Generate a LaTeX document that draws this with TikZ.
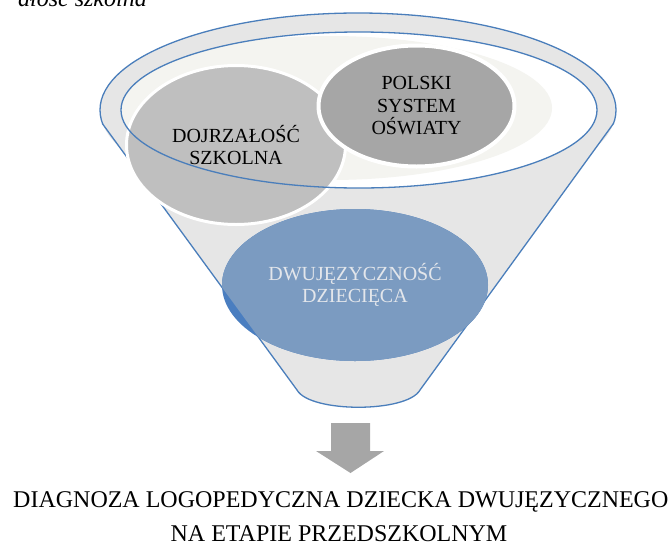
\documentclass[tikz,border=0pt]{standalone}
\usepackage{fontspec}
\setmainfont{Liberation Serif}
\usetikzlibrary{shapes.geometric}
\definecolor{funnelgray}{HTML}{E6E6E6}
\definecolor{funnelblue}{HTML}{4A7EBB}
\definecolor{dojgray}{HTML}{BFBFBF}
\definecolor{polgray}{HTML}{A6A6A6}
\definecolor{lightblue}{HTML}{7B9BC1}
\definecolor{darkblue}{HTML}{4A7EC0}
\definecolor{softshade}{HTML}{F4F4F0}
\definecolor{bluetext}{HTML}{E3E6EB}
\definecolor{arrowgray}{HTML}{A6A6A6}
\begin{document}
\begin{tikzpicture}[x=1pt,y=-1pt,
  bubble/.style={ellipse, inner sep=0pt, outer sep=0pt, align=center,
    font=\fontsize{20}{22.5}\selectfont},
  funnelline/.style={draw=funnelblue, line width=1.3pt},
  caption/.style={font=\fontsize{24}{28}\selectfont, inner sep=0pt}]
\useasboundingbox (0,0) rectangle (669,544);
% funnel geometry
\coordinate (fl) at (102.3,123.5);
\coordinate (bl) at (297,390);
\coordinate (br) at (420,390);
\coordinate (fr) at (613.5,123.5);
% funnel body
\fill[funnelgray] (358,110) ellipse [x radius=258pt, y radius=97pt];
\fill[funnelgray] (fl) -- (bl) .. controls (310,413) and (407,413) .. (br) -- (fr) -- cycle;
\begin{scope}
  \clip (0,0) rectangle (669,123.5);
  \draw[funnelline] (358,110) ellipse [x radius=258pt, y radius=97pt];
\end{scope}
\draw[funnelline] (fl) -- (bl) .. controls (310,413) and (407,413) .. (br) -- (fr);
% inner rim
\fill[white] (359,110) ellipse [x radius=238pt, y radius=78pt];
\begin{scope}
  \clip (359,110) ellipse [x radius=238pt, y radius=78pt];
  \fill[softshade] (330,108) ellipse [x radius=222pt, y radius=72pt];
\end{scope}
% circles
\node[bubble, fill=dojgray, draw=white, line width=3pt,
  minimum width=219pt, minimum height=159pt] (dojrz) at (236,145) {DOJRZAŁOŚĆ\\SZKOLNA};
\node[bubble, fill=polgray, draw=white, line width=4pt,
  minimum width=196pt, minimum height=121pt] (polski) at (416.5,106) {POLSKI\\SYSTEM\\OŚWIATY};
\draw[funnelline] (359,110) ellipse [x radius=238pt, y radius=78pt];
% blue circle
\node[bubble, fill=darkblue, minimum width=266pt, minimum height=152pt] (dwushadow) at (355,285) {};
\begin{scope}
  \clip (fl) -- (bl) -- (297,544) -- (669,544) -- (669,0) -- (102.3,0) -- cycle;
  \node[bubble, fill=lightblue, text=bluetext,
    minimum width=266pt, minimum height=152pt] (dwu) at (355,285) {DWUJĘZYCZNOŚĆ\\DZIECIĘCA};
\end{scope}
% arrow
\fill[arrowgray] (331,423) -- (370,423) -- (370,451) -- (384,451) -- (350.5,473) -- (316,451) -- (331,451) -- cycle;
% texts
\node[caption, anchor=base west] (diag1) at (13,507) {DIAGNOZA LOGOPEDYCZNA DZIECKA DWUJĘZYCZNEGO};
\node[caption, anchor=base] (diag2) at (339,541.5) {NA ETAPIE PRZEDSZKOLNYM};
\node[caption, font=\itshape\fontsize{24}{28}\selectfont, anchor=base east] (toptext) at (147,6) {ałość szkolna};
\end{tikzpicture}
\end{document}
